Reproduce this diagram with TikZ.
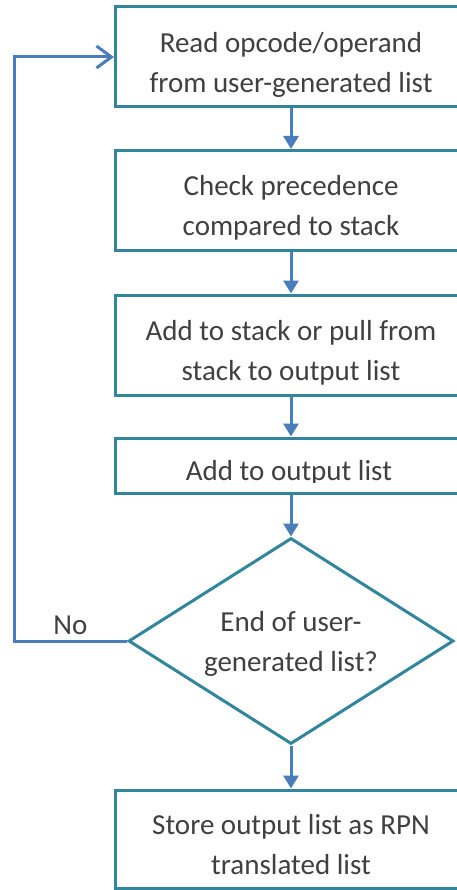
\documentclass[tikz,border=0pt]{standalone}
\usepackage{fontspec}
\setmainfont{Carlito}
\usetikzlibrary{arrows.meta,shapes.geometric}
\definecolor{boxteal}{HTML}{31859C}
\definecolor{flowblue}{HTML}{4A7EBB}
\definecolor{textgrey}{HTML}{404040}
\newcommand{\boxtop}{\rule{0pt}{38pt}}
\newcommand{\boxbot}{\rule[-7pt]{0pt}{7pt}}
\newcommand{\dtop}{\rule{0pt}{28pt}}
\newcommand{\dbot}{\rule[-8pt]{0pt}{8pt}}
\begin{document}
\begin{tikzpicture}[x=1pt,y=-1pt,
  every node/.style={font=\fontsize{29}{40}\selectfont, text=textgrey},
  box/.style={draw=boxteal, line width=3pt, fill=white, minimum width=351pt,
    inner sep=0pt, align=center},
  decision/.style={draw=boxteal, line width=3pt, fill=white, shape=diamond,
    shape aspect=1.58, minimum width=325pt, minimum height=206pt,
    inner sep=0pt, align=center},
  flow/.style={draw=flowblue, line width=3pt, -{Triangle[length=13pt,width=15pt]}},
  back/.style={draw=flowblue, line width=3pt, -{Straight Barb[length=15pt,width=22pt]}},
]
\useasboundingbox (0,0) rectangle (457,890);
\fill[white] (0,0) rectangle (457,890);
\clip (0,0) rectangle (457,890);

\node[box, minimum height=100pt] (b1) at (291,57)
  {\boxtop Read opcode/operand\\from user-generated list\boxbot};
\node[box, minimum height=100pt] (b2) at (291,200.5)
  {\boxtop Check precedence\\compared to stack\boxbot};
\node[box, minimum height=100pt] (b3) at (291,345)
  {\boxtop Add to stack or pull from\\stack to output list\boxbot};
\node[box, minimum height=55pt] (b4) at (291,465.5) {};
\begin{scope}
  \clip (116,440) rectangle (466,482.5);
  \node[anchor=base, inner sep=0pt] (t4) at (289,480) {Add to output list};
\end{scope}
\node[decision] (d) at (291,641) {\dtop End of user-\\generated list?\dbot};
\node[box, minimum height=98pt] (b5) at (291,839)
  {\boxtop Store output list as RPN\\translated list\boxbot};

\coordinate (loopx) at (14,0);

\draw[flow] (b1.south) -- (b2.north);
\draw[flow] (b2.south) -- (b3.north);
\draw[flow] (b3.south) -- (b4.north);
\draw[flow] (b4.south) -- (d.north);
\draw[flow] (d.south) -- (b5.north);
\draw[back] (d.west) -- node[midway, anchor=base, yshift=7pt, inner sep=0pt] (no) {No}
  (d.west -| loopx) |- (b1.west);
\end{tikzpicture}
\end{document}
